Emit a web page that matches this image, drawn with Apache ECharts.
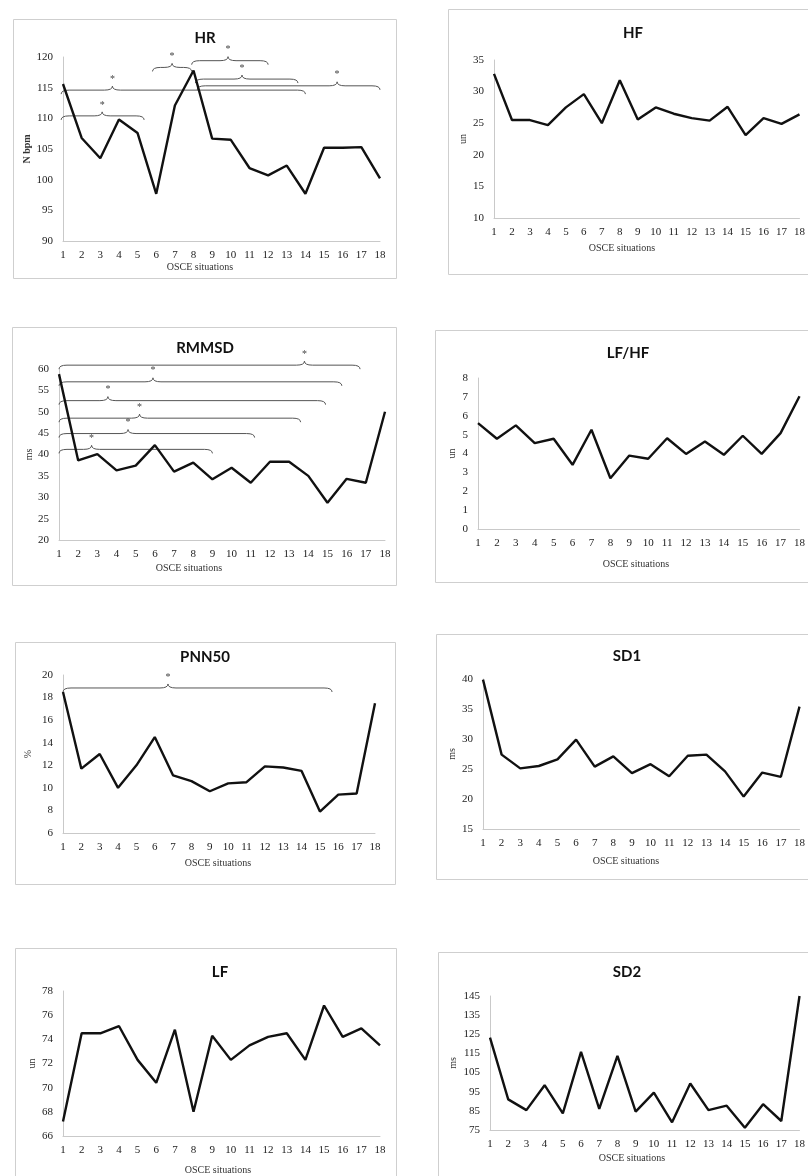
<!DOCTYPE html>
<html>
<head>
<meta charset="utf-8">
<script src="https://cdn.jsdelivr.net/npm/echarts@6/dist/echarts.min.js"></script>
<style>
  html, body { margin: 0; padding: 0; background: #ffffff; }
  #chart { width: 808px; height: 1176px; }
</style>
</head>
<body>
<div id="chart"></div>
<script>
// OSCE situations on the horizontal axis
const situations = [1, 2, 3, 4, 5, 6, 7, 8, 9, 10, 11, 12, 13, 14, 15, 16, 17, 18];

// Mean values per situation
const hrValues    = [115.6, 106.8, 103.5, 109.8, 107.6, 97.7, 112.1, 117.8, 106.7, 106.5, 101.9, 100.7, 102.3, 97.7, 105.2, 105.2, 105.3, 100.2];
const hfValues    = [32.8, 25.5, 25.5, 24.7, 27.5, 29.6, 25.0, 31.8, 25.6, 27.5, 26.5, 25.8, 25.4, 27.6, 23.1, 25.8, 24.9, 26.4];
const rmssdValues = [58.8, 38.6, 40.1, 36.3, 37.4, 42.2, 36.0, 38.1, 34.2, 36.9, 33.4, 38.3, 38.3, 35.0, 28.7, 34.3, 33.4, 50.0];
const lfhfValues  = [5.61, 4.78, 5.49, 4.55, 4.78, 3.40, 5.26, 2.69, 3.89, 3.72, 4.81, 3.98, 4.64, 3.93, 4.94, 3.98, 5.08, 7.03];
const pnn50Values = [18.5, 11.7, 13.0, 10.0, 12.0, 14.5, 11.1, 10.6, 9.7, 10.4, 10.5, 11.9, 11.8, 11.5, 7.9, 9.4, 9.5, 17.5];
const sd1Values   = [39.9, 27.4, 25.1, 25.5, 26.6, 29.9, 25.4, 27.1, 24.3, 25.8, 23.8, 27.2, 27.4, 24.6, 20.4, 24.4, 23.7, 35.4];
const lfValues    = [67.2, 74.5, 74.5, 75.1, 72.3, 70.4, 74.8, 68.0, 74.3, 72.3, 73.5, 74.2, 74.5, 72.3, 76.8, 74.2, 74.9, 73.5];
const sd2Values   = [123.3, 91.0, 85.4, 98.4, 83.7, 115.8, 86.0, 113.7, 84.6, 94.5, 79.0, 99.3, 85.4, 87.7, 76.2, 88.5, 79.7, 145.0];

// Value-axis tick labels
const hrTicks    = [90, 95, 100, 105, 110, 115, 120];
const hfTicks    = [10, 15, 20, 25, 30, 35];
const rmssdTicks = [20, 25, 30, 35, 40, 45, 50, 55, 60];
const lfhfTicks  = [0, 1, 2, 3, 4, 5, 6, 7, 8];
const pnn50Ticks = [6, 8, 10, 12, 14, 16, 18, 20];
const sd1Ticks   = [15, 20, 25, 30, 35, 40];
const lfTicks    = [66, 68, 70, 72, 74, 76, 78];
const sd2Ticks   = [75, 85, 95, 105, 115, 125, 135, 145];

// Significance brackets: [from situation, to situation, apex situation, level]
const hrBrackets = [
  [0.9, 5.35, 3.1, 110.4],
  [0.9, 14.0, 3.65, 114.6],
  [5.8, 7.9, 6.85, 118.3],
  [7.9, 12.0, 9.85, 119.4],
  [8.1, 13.6, 10.6, 116.4],
  [8.2, 18.0, 15.7, 115.3]
];
const rmssdBrackets = [
  [1.0, 16.7, 13.8, 60.9],
  [1.0, 15.75, 5.9, 57.0],
  [1.0, 14.9, 3.55, 52.6],
  [1.0, 13.6, 5.2, 48.5],
  [1.0, 11.2, 4.6, 44.9],
  [1.0, 9.0, 2.7, 41.2]
];
const pnn50Brackets = [
  [1.0, 15.66, 6.72, 18.85]
];

const xTitle = 'OSCE situations';

// Panel layout (pixels) and content
const panels = [
  { title: 'HR',    values: hrValues,    ticks: hrTicks,    unit: 'N bpm', unitBold: true, brackets: hrBrackets,
    grid: [63, 57, 317, 184],  titleAt: [205, 38],  xTitleAt: [200, 267],  box: [13, 19, 383, 259],  nameGap: 30 },
  { title: 'HF',    values: hfValues,    ticks: hfTicks,    unit: 'un',
    grid: [494, 60, 310, 158], titleAt: [633, 33],  xTitleAt: [622, 248],  box: [448, 9, 400, 265],  nameGap: 26 },
  { title: 'RMMSD', values: rmssdValues, ticks: rmssdTicks, unit: 'ms', brackets: rmssdBrackets,
    grid: [59, 369, 326, 171], titleAt: [205, 348], xTitleAt: [189, 568],  box: [12, 327, 384, 258], nameGap: 25 },
  { title: 'LF/HF', values: lfhfValues,  ticks: lfhfTicks,  unit: 'un',
    grid: [478, 378, 327, 151], titleAt: [628, 353], xTitleAt: [636, 564], box: [435, 330, 400, 252], nameGap: 21 },
  { title: 'PNN50', values: pnn50Values, ticks: pnn50Ticks, unit: '%', brackets: pnn50Brackets,
    grid: [63, 675, 312, 158], titleAt: [205, 657], xTitleAt: [218, 863], box: [15, 642, 380, 242], nameGap: 30 },
  { title: 'SD1',   values: sd1Values,   ticks: sd1Ticks,   unit: 'ms',
    grid: [483, 679, 319, 150], titleAt: [627, 656], xTitleAt: [626, 861], box: [436, 634, 400, 245], nameGap: 26 },
  { title: 'LF',    values: lfValues,    ticks: lfTicks,    unit: 'un',
    grid: [63, 991, 317, 145], titleAt: [220, 972], xTitleAt: [218, 1170], box: [15, 948, 381, 300], nameGap: 26 },
  { title: 'SD2',   values: sd2Values,   ticks: sd2Ticks,   unit: 'ms',
    grid: [490, 996, 311, 134], titleAt: [627, 972], xTitleAt: [632, 1158], box: [438, 952, 400, 300], nameGap: 32 }
];

const serif = '"Liberation Serif", "DejaVu Serif", serif';
const axisColor = '#c9c9c9';

// Curly bracket with an apex pointing up and an asterisk above it
function renderBracket(params, api) {
  const x1 = api.value(0), x2 = api.value(1), xm = api.value(2), lvl = api.value(3);
  const a = api.coord([x1, lvl]);
  const b = api.coord([x2, lvl]);
  const m = api.coord([xm, lvl]);
  const y = a[1];
  const h = 4, r = 8;
  const stroke = { stroke: '#555', lineWidth: 1, fill: 'none' };
  return {
    type: 'group',
    children: [
      { type: 'bezierCurve', shape: { x1: a[0], y1: y + h, cpx1: a[0], cpy1: y, x2: a[0] + r, y2: y }, style: stroke },
      { type: 'line', shape: { x1: a[0] + r, y1: y, x2: m[0] - r, y2: y }, style: stroke },
      { type: 'bezierCurve', shape: { x1: m[0] - r, y1: y, cpx1: m[0], cpy1: y, x2: m[0], y2: y - h }, style: stroke },
      { type: 'bezierCurve', shape: { x1: m[0], y1: y - h, cpx1: m[0], cpy1: y, x2: m[0] + r, y2: y }, style: stroke },
      { type: 'line', shape: { x1: m[0] + r, y1: y, x2: b[0] - r, y2: y }, style: stroke },
      { type: 'bezierCurve', shape: { x1: b[0] - r, y1: y, cpx1: b[0], cpy1: y, x2: b[0], y2: y + h }, style: stroke },
      { type: 'text', x: m[0], y: y - h - 2,
        style: { text: '*', fill: '#444', font: '10px ' + serif, align: 'center', verticalAlign: 'bottom' } }
    ]
  };
}

const grids = [], xAxes = [], yAxes = [], series = [], graphics = [];

panels.forEach((p, i) => {
  grids.push({ left: p.grid[0], top: p.grid[1], width: p.grid[2], height: p.grid[3], containLabel: false });

  xAxes.push({
    gridIndex: i, type: 'value',
    min: situations[0], max: situations[situations.length - 1], interval: 1,
    axisLine: { show: true, onZero: false, lineStyle: { color: axisColor, width: 1 } },
    axisTick: { show: false }, splitLine: { show: false },
    axisLabel: { color: '#222', fontFamily: serif, fontSize: 11, margin: 9, showMinLabel: true, showMaxLabel: true }
  });

  yAxes.push({
    gridIndex: i, type: 'value',
    min: p.ticks[0], max: p.ticks[p.ticks.length - 1], interval: p.ticks[1] - p.ticks[0],
    axisLine: { show: true, lineStyle: { color: axisColor, width: 1 } },
    axisTick: { show: false }, splitLine: { show: false },
    axisLabel: { color: '#222', fontFamily: serif, fontSize: 11, margin: 10 },
    name: p.unit, nameLocation: 'middle', nameGap: p.nameGap, nameRotate: 90,
    nameTextStyle: { color: '#333', fontFamily: serif, fontSize: 10, fontWeight: p.unitBold ? 'bold' : 'normal' }
  });

  series.push({
    type: 'line', xAxisIndex: i, yAxisIndex: i,
    data: situations.map((s, k) => [s, p.values[k]]),
    symbol: 'none', smooth: false, clip: false,
    lineStyle: { color: '#111', width: 2.4 },
    silent: true, z: 3
  });

  if (p.brackets) {
    series.push({
      type: 'custom', xAxisIndex: i, yAxisIndex: i,
      data: p.brackets, renderItem: renderBracket,
      encode: { x: [0, 1, 2], y: 3 }, clip: false, silent: true, z: 2
    });
  }

  graphics.push({
    type: 'rect', silent: true, z: -1,
    shape: { x: p.box[0] + 0.5, y: p.box[1] + 0.5, width: p.box[2], height: p.box[3] },
    style: { fill: 'none', stroke: '#cfcfcf', lineWidth: 1 }
  });
  graphics.push({
    type: 'text', silent: true, x: p.titleAt[0], y: p.titleAt[1],
    style: { text: p.title, fill: '#111', font: 'bold 15px Lato, "Liberation Sans", sans-serif', align: 'center', verticalAlign: 'middle' }
  });
  graphics.push({
    type: 'text', silent: true, x: p.xTitleAt[0], y: p.xTitleAt[1],
    style: { text: xTitle, fill: '#333', font: '10px ' + serif, align: 'center', verticalAlign: 'middle' }
  });
});

const chart = echarts.init(document.getElementById('chart'), null, { renderer: 'canvas' });
chart.setOption({
  backgroundColor: '#ffffff',
  animation: false,
  grid: grids,
  xAxis: xAxes,
  yAxis: yAxes,
  series: series,
  graphic: graphics
});
</script>
</body>
</html>
